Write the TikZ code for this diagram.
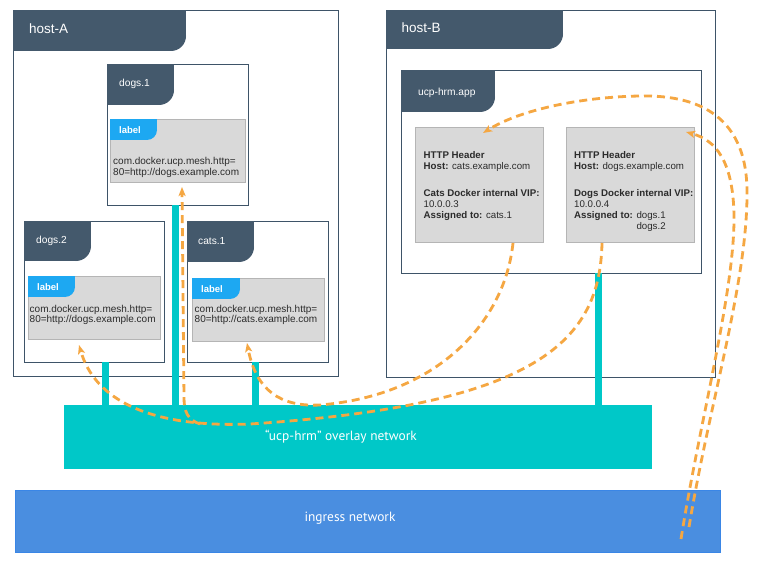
\documentclass[tikz,border=0pt]{standalone}
\usepackage{fontspec}
\setmainfont{Liberation Sans}
\newfontfamily\netfont{PT Sans}
\usetikzlibrary{arrows.meta}
\definecolor{hdrc}{HTML}{44596C}
\definecolor{bordc}{HTML}{3E5468}
\definecolor{lblgray}{HTML}{D9D9D9}
\definecolor{lblbord}{HTML}{B5B5B5}
\definecolor{tabblue}{HTML}{1DA8F2}
\definecolor{ovteal}{HTML}{00C8C8}
\definecolor{ingblue}{HTML}{4A8EE0}
\definecolor{ingbord}{HTML}{3A86E6}
\definecolor{dashor}{HTML}{F5A742}
\definecolor{txtc}{HTML}{2B2B2B}
\newcommand\tabhdr[6]{%
  \fill[#1] (#2,#3) rectangle (#4-#6,#5);
  \fill[#1] (#2,#3) rectangle (#4,#5-#6);
  \fill[#1] (#4-#6,#5-#6) circle[radius=#6pt];
}
\begin{document}
\begin{tikzpicture}[x=1pt,y=-1pt,
  hostbox/.style={draw=bordc, line width=0.9pt, fill=white, anchor=north west, inner sep=0pt, outer sep=0pt},
  graybox/.style={draw=lblbord, line width=0.9pt, fill=lblgray, anchor=north west, inner sep=0pt, outer sep=0pt},
  hosttext/.style={text=white, anchor=west, inner sep=0pt, font=\fontsize{13.5}{16}\selectfont},
  ctext/.style={text=white, anchor=west, inner sep=0pt, font=\fontsize{10.2}{12}\selectfont},
  lbltext/.style={text=white, anchor=west, inner sep=0pt, font=\fontsize{9.5}{11}\selectfont\bfseries},
  valtext/.style={text=txtc, anchor=west, inner sep=0pt, align=left, font=\fontsize{10}{10.8}\selectfont},
  httptext/.style={text=txtc, anchor=west, inner sep=0pt, align=left, font=\fontsize{9.7}{11}\selectfont},
  nettext/.style={text=white, inner sep=0pt, font=\netfont\fontsize{13.4}{15}\selectfont},
  tealbar/.style={draw=ovteal, line width=7pt},
  route/.style={draw=dashor, line width=2.8pt, dash pattern=on 8pt off 5pt, -{Stealth[length=9pt,width=7pt,inset=2pt]}}
]
\useasboundingbox (0,0) rectangle (757,572);

% ---------- host-A ----------
\node[hostbox, minimum width=325pt, minimum height=366pt] (hostA) at (13,10) {};
\tabhdr{hdrc}{13}{10}{186}{51}{15}
\node[hosttext] (hostAt) at (29,29) {host-A};

% dogs.1
\node[hostbox, minimum width=141pt, minimum height=141pt] (dogs1) at (107,64) {};
\tabhdr{hdrc}{107}{64}{174}{105}{15}
\node[ctext] (dogs1t) at (119,84) {dogs.1};
\node[graybox, minimum width=135pt, minimum height=63pt] (lbl1) at (110,119) {};
\tabhdr{tabblue}{110}{119}{157}{140}{10}
\node[lbltext] (lbl1t) at (119,130) {label};
\node[valtext] (val1) at (113,167.5) {com.docker.ucp.mesh.http=\\80=http://dogs.example.com};

% dogs.2
\node[hostbox, minimum width=140pt, minimum height=141pt] (dogs2) at (24,221) {};
\tabhdr{hdrc}{24}{221}{91}{261}{15}
\node[ctext] (dogs2t) at (36,241) {dogs.2};
\node[graybox, minimum width=132pt, minimum height=63pt] (lbl2) at (28,276) {};
\tabhdr{tabblue}{28}{276}{75}{297}{10}
\node[lbltext] (lbl2t) at (37,287) {label};
\node[valtext] (val2) at (29.5,315) {com.docker.ucp.mesh.http=\\80=http://dogs.example.com};

% cats.1
\node[hostbox, minimum width=141pt, minimum height=141pt] (cats1) at (187,221) {};
\tabhdr{hdrc}{187}{221}{254}{262}{15}
\node[ctext] (cats1t) at (198,241) {cats.1};
\node[graybox, minimum width=132pt, minimum height=63pt] (lbl3) at (192,278) {};
\tabhdr{tabblue}{192}{278}{240}{299}{10}
\node[lbltext] (lbl3t) at (201,289) {label};
\node[valtext] (val3) at (194.5,315) {com.docker.ucp.mesh.http=\\80=http://cats.example.com};

% ---------- host-B ----------
\node[hostbox, minimum width=329pt, minimum height=367pt] (hostB) at (386,10) {};
\tabhdr{hdrc}{386}{10}{563}{49}{15}
\node[hosttext] (hostBt) at (401.5,28) {host-B};

\node[hostbox, minimum width=300pt, minimum height=203pt] (app) at (401,70) {};
\tabhdr{hdrc}{401}{70}{495}{112}{15}
\node[ctext] (appt) at (418,93) {ucp-hrm.app};

\node[graybox, minimum width=128pt, minimum height=115pt] (hcats) at (415,127) {};
\node[httptext] (hcats1) at (423.5,161.5) {\textbf{HTTP Header}\\\textbf{Host:} cats.example.com};
\node[httptext] (hcats2) at (423.5,205.5) {\textbf{Cats Docker internal VIP:}\\10.0.0.3\\\textbf{Assigned to:} cats.1};

\node[graybox, minimum width=128pt, minimum height=115pt] (hdogs) at (566,127) {};
\node[httptext] (hdogs1) at (574,161.5) {\textbf{HTTP Header}\\\textbf{Host:} dogs.example.com};
\node[httptext] (hdogs2) at (574,211) {\textbf{Dogs Docker internal VIP:}\\10.0.0.4\\\textbf{Assigned to:} dogs.1\\\phantom{\textbf{Assigned to:} }dogs.2};

% ---------- networks ----------
\node[fill=ovteal, anchor=north west, inner sep=0pt, minimum width=588pt, minimum height=64pt] (overlay) at (64,405) {};
\node[nettext] (overlayt) at (341,437) {“ucp-hrm” overlay network};
\node[fill=ingblue, draw=ingbord, line width=0.8pt, anchor=north west, inner sep=0pt, minimum width=705pt, minimum height=62pt] (ingress) at (15,490) {};
\node[nettext] (ingresst) at (350,518) {ingress network};

% ---------- teal attachments ----------
\coordinate (b1) at ([xshift=11pt]dogs2.south);
\coordinate (b2) at ([xshift=-2pt]dogs1.south);
\coordinate (b3) at ([xshift=-2pt]cats1.south);
\coordinate (b4) at ([xshift=47.5pt]app.south);
\draw[tealbar] (b1) -- (b1 |- overlay.north);
\draw[tealbar] (b2) -- (b2 |- overlay.north);
\draw[tealbar] (b3) -- (b3 |- overlay.north);
\draw[tealbar] (b4) -- (b4 |- overlay.north);

% ---------- routes ----------
\coordinate (outS) at (689,527);
\coordinate (inS) at (681,539);
\coordinate (tipCats) at (483,133);
\coordinate (tipDogs) at (686,132);
\coordinate (cS) at (513,243);
\coordinate (dS) at (602,243);
\coordinate (tipC1) at (247,343);
\coordinate (tipD2) at (79,345);
\coordinate (junc) at (200,424);
\coordinate (tipD1) at (182,187);

\draw[route] (outS) .. controls (710,400) and (748,280) .. (747,190)
  .. controls (746,110) and (690,95) .. (640,96)
  .. controls (580,97) and (520,110) .. (tipCats);
\draw[route] (inS) .. controls (700,420) and (735,290) .. (734,215)
  .. controls (733,160) and (715,140) .. (tipDogs);
\draw[route] (cS) .. controls (505,320) and (440,395) .. (320,405)
  .. controls (280,407) and (256,390) .. (tipC1);
\draw[route] (dS) .. controls (600,340) and (540,405) .. (250,424)
  .. controls (150,428) and (95,400) .. (tipD2);
\draw[route] (junc) .. controls (188,420) and (184,412) .. (184,398) -- (tipD1);
\end{tikzpicture}
\end{document}
